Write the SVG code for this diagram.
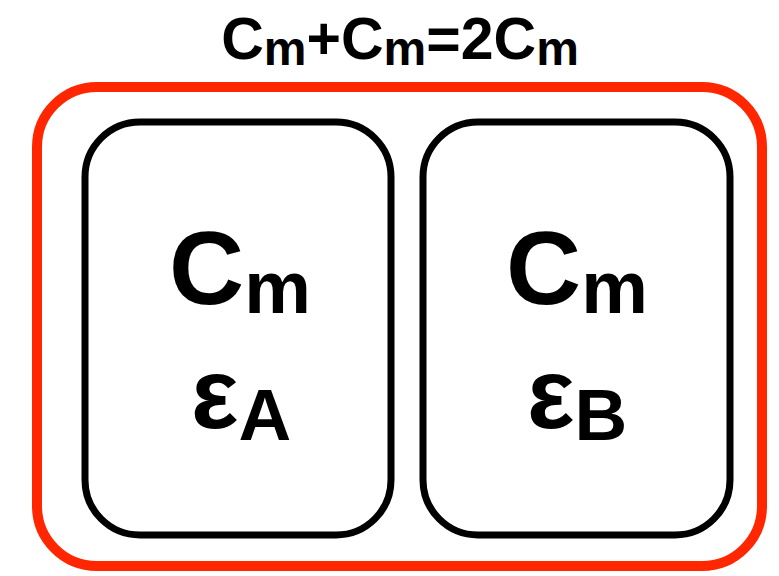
<svg xmlns="http://www.w3.org/2000/svg" width="779" height="576" viewBox="0 0 779 576">
<style>
text{font-family:"Liberation Sans",Arial,sans-serif;font-weight:bold;fill:#000;text-anchor:middle}
.cell{fill:#fff;stroke:#000;stroke-width:7}
</style>
<rect width="779" height="576" fill="#fff"/>
<g id="group">
<rect x="37" y="87" width="725" height="479" rx="60" ry="60" fill="none" stroke="#ff2600" stroke-width="10"/>
<text x="400" y="59" font-size="59">C<tspan font-size="48" dy="6">m</tspan><tspan dy="-6">+C</tspan><tspan font-size="48" dy="6">m</tspan><tspan dy="-6">=2C</tspan><tspan font-size="48" dy="6">m</tspan></text>
</g>
<g id="cellA">
<rect class="cell" x="85" y="122" width="306" height="413" rx="55" ry="55"/>
<text x="240" y="304" font-size="104">C<tspan font-size="75" dy="9">m</tspan></text>
<text x="241" y="428" font-size="100">ε<tspan font-size="73" dy="12">A</tspan></text>
</g>
<g id="cellB">
<rect class="cell" x="423" y="122" width="307" height="413" rx="55" ry="55"/>
<text x="577" y="304" font-size="104">C<tspan font-size="75" dy="9">m</tspan></text>
<text x="577" y="428" font-size="100">ε<tspan font-size="73" dy="12">B</tspan></text>
</g>
</svg>
